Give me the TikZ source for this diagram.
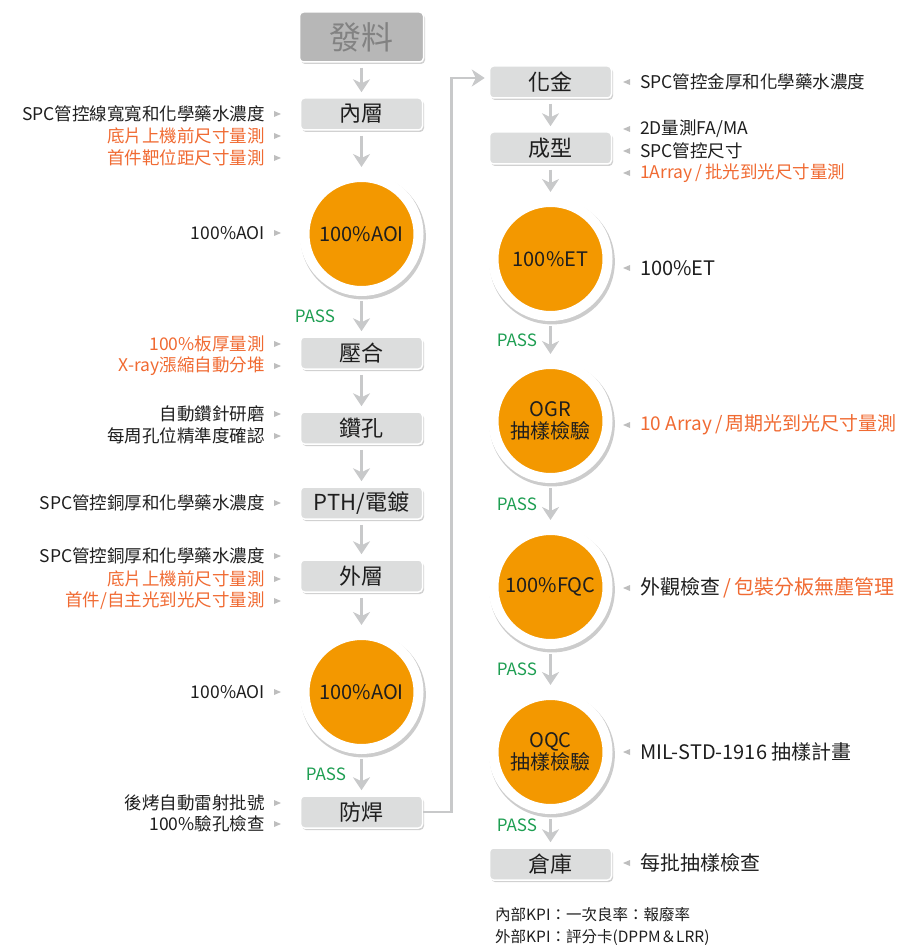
\documentclass[tikz,border=0pt]{standalone}
\usepackage{fontspec}
\setmainfont{Noto Sans CJK TC}
\usetikzlibrary{arrows.meta, positioning, shapes.geometric, shadows}
\definecolor{qcorange}{RGB}{243, 152, 0}
\definecolor{noteorange}{RGB}{240, 106, 50}
\definecolor{passgreen}{RGB}{30, 158, 82}
\definecolor{boxgray}{RGB}{220, 221, 221}
\definecolor{feedgray}{RGB}{183, 183, 183}
\definecolor{feedtext}{RGB}{130, 130, 130}
\definecolor{flowgray}{RGB}{200, 201, 202}
\definecolor{tipgray}{RGB}{190, 190, 190}
\definecolor{inkgray}{RGB}{30, 30, 30}
\newcommand{\notefont}{\fontsize{17.5}{20}\selectfont}
\newcommand{\bignotefont}{\fontsize{20}{23}\selectfont}
\newcommand{\boxfont}{\fontsize{22}{26}\selectfont}
\newcommand{\feedfont}{\fontsize{32}{36}\selectfont}
\newcommand{\ringfont}{\fontsize{20}{21.5}\selectfont}

\begin{document}
\begin{tikzpicture}[x=1pt, y=-1pt,
    stepbox/.style={rectangle, rounded corners=4pt, fill=boxgray, draw=white,
                    line width=1.5pt, minimum width=122pt, minimum height=32pt,
                    inner sep=0pt, text=inkgray, font=\boxfont,
                    drop shadow={shadow xshift=1.5pt, shadow yshift=-2pt,
                                 fill=black!30, opacity=.6}},
    feedbox/.style={stepbox, fill=feedgray, text=feedtext, font=\feedfont,
                    minimum width=124pt, minimum height=50pt},
    qcring/.style={circle, fill=qcorange, draw=white, line width=10pt,
                   minimum size=114pt, inner sep=0pt, align=center,
                   text=inkgray, font=\ringfont,
                   drop shadow={shadow scale=1.1, shadow xshift=1.5pt,
                                shadow yshift=-2.5pt, fill=black!20, opacity=1}},
    notetip/.style={isosceles triangle, isosceles triangle stretches,
                    fill=tipgray, inner sep=0pt, outer sep=0pt,
                    minimum width=6pt, minimum height=7pt},
    lnote/.style={anchor=east, inner sep=0pt, font=\notefont, text=inkgray,
                  label={[notetip, label distance=9pt]right:{}}},
    rnote/.style={anchor=west, inner sep=0pt, font=\notefont, text=inkgray,
                  label={[notetip, shape border rotate=180,
                          label distance=10pt]left:{}}},
    pass/.style={text=passgreen, font=\fontsize{17}{18}\selectfont},
    kpi/.style={anchor=west, align=left, inner sep=0pt, text=inkgray,
                font=\fontsize{15.5}{22}\selectfont},
    flow/.style={draw=flowgray, line width=2.5pt,
                 -{Stealth[length=13pt, width=17pt, inset=4pt]},
                 shorten <=5pt, shorten >=5pt},
  ]
    \useasboundingbox (0,0) rectangle (913,949);

    % Left column: process steps
    \node[feedbox] (fl)   at (361.5,37)  {發料};
    \node[stepbox] (nc)   at (361.5,114) {內層};
    \node[qcring]  (aoi1) at (361.5,234) {100\%AOI};
    \node[stepbox] (yh)   at (361.5,353) {壓合};
    \node[stepbox] (zk)   at (361.5,428) {鑽孔};
    \node[stepbox] (pth)  at (361.5,503) {PTH/電鍍};
    \node[stepbox] (wc)   at (361.5,576) {外層};
    \node[qcring]  (aoi2) at (361.5,692) {100\%AOI};
    \node[stepbox] (fh)   at (361.5,812) {防焊};

    % Right column: process steps
    \node[stepbox] (hj)  at (550.5,82)  {化金};
    \node[stepbox] (cx)  at (550.5,148) {成型};
    \node[qcring]  (et)  at (550.5,259) {100\%ET};
    \node[qcring]  (ogr) at (550.5,421) {OGR\\抽樣檢驗};
    \node[qcring]  (fqc) at (550.5,587) {100\%FQC};
    \node[qcring]  (oqc) at (550.5,752) {OQC\\抽樣檢驗};
    \node[stepbox] (ck)  at (550.5,864) {倉庫};

    % Left notes
    \node[lnote] (nc1) at (265,114) {SPC管控線寬寬和化學藥水濃度};
    \node[lnote, text=noteorange] (nc2) at (265,136) {底片上機前尺寸量測};
    \node[lnote, text=noteorange] (nc3) at (265,158) {首件靶位距尺寸量測};
    \node[lnote] (aoi1n) at (265,233) {100\%AOI};
    \node[lnote, text=noteorange] (yh1) at (265,344) {100\%板厚量測};
    \node[lnote, text=noteorange] (yh2) at (265,366) {X-ray漲縮自動分堆};
    \node[lnote] (zk1) at (265,414) {自動鑽針研磨};
    \node[lnote] (zk2) at (265,436) {每周孔位精準度確認};
    \node[lnote] (pth1) at (265,503) {SPC管控銅厚和化學藥水濃度};
    \node[lnote] (wc1) at (265,556) {SPC管控銅厚和化學藥水濃度};
    \node[lnote, text=noteorange] (wc2) at (265,579) {底片上機前尺寸量測};
    \node[lnote, text=noteorange] (wc3) at (265,601) {首件/自主光到光尺寸量測};
    \node[lnote] (aoi2n) at (265,692) {100\%AOI};
    \node[lnote] (fh1) at (265,803) {後烤自動雷射批號};
    \node[lnote] (fh2) at (265,824) {100\%驗孔檢查};

    % Right notes
    \node[rnote] (hj1) at (640,82)  {SPC管控金厚和化學藥水濃度};
    \node[rnote] (cx1) at (640,129) {2D量測FA/MA};
    \node[rnote] (cx2) at (640,151) {SPC管控尺寸};
    \node[rnote, text=noteorange] (cx3) at (640,173) {1Array\,/\,批光到光尺寸量測};
    \node[rnote, font=\bignotefont] (et1) at (640,268) {100\%ET};
    \node[rnote, font=\fontsize{19}{23}\selectfont, text=noteorange] (ogr1)
      at (640,425) {10 Array\,/\,周期光到光尺寸量測};
    \node[rnote, font=\bignotefont] (fqc1) at (640,588)
      {外觀檢查\,\textcolor{noteorange}{/\,包裝分板無塵管理}};
    \node[rnote, font=\bignotefont] (oqc1) at (640,752) {MIL-STD-1916 抽樣計畫};
    \node[rnote, font=\bignotefont] (ck1) at (640,863) {每批抽樣檢查};

    % KPI
    \node[kpi] (kpi) at (495,926)
      {內部KPI：一次良率：報廢率\\外部KPI：評分卡(DPPM＆LRR)};

    \draw[flow] (fl) -- (nc);
    \draw[flow] (nc) -- (aoi1);
    \draw[flow] (aoi1) -- node[pass, left=22pt] {PASS} (yh);
    \draw[flow] (yh) -- (zk);
    \draw[flow] (zk) -- (pth);
    \draw[flow] (pth) -- (wc);
    \draw[flow] (wc) -- (aoi2);
    \draw[flow] (aoi2) -- node[pass, left=11pt] {PASS} (fh);
    \draw[flow, shorten <=0pt, shorten >=4pt] (fh.east) -- ++(28,0)
      |- ([yshift=4pt]hj.west);
    \draw[flow] (hj) -- (cx);
    \draw[flow] (cx) -- (et);
    \draw[flow] (et) -- node[pass, left=9pt] {PASS} (ogr);
    \draw[flow] (ogr) -- node[pass, left=9pt] {PASS} (fqc);
    \draw[flow] (fqc) -- node[pass, left=9pt] {PASS} (oqc);
    \draw[flow] (oqc) -- node[pass, left=9pt, pos=.35] {PASS} (ck);
\end{tikzpicture}
\end{document}
